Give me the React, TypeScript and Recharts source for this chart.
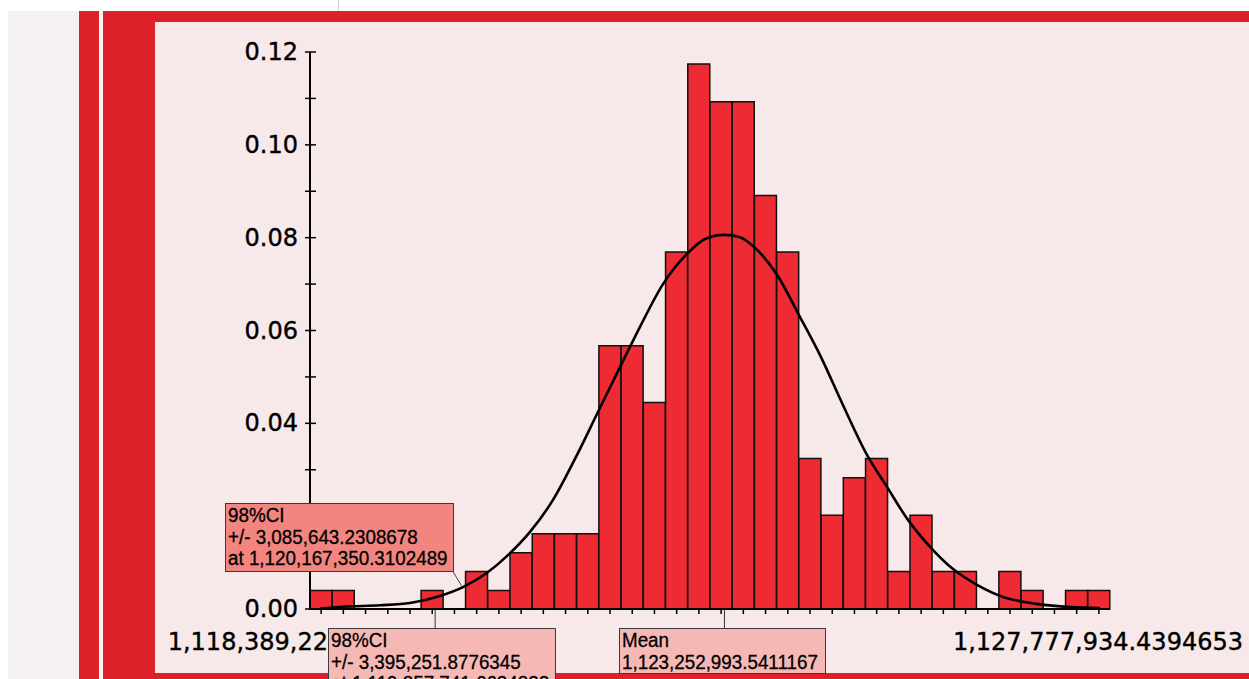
import React from "react";
import { ComposedChart, Bar, Line, XAxis, YAxis, ReferenceLine } from "recharts";

// fraction of samples in each of the 36 bins
const binFractions: number[] = [
  0.004, 0.004, 0, 0, 0, 0.004, 0, 0.0081, 0.004, 0.0121, 0.0162, 0.0162,
  0.0162, 0.0567, 0.0567, 0.0445, 0.0769, 0.1174, 0.1093, 0.1093, 0.0891,
  0.0769, 0.0324, 0.0202, 0.0283, 0.0324, 0.0081, 0.0202, 0.0081, 0.0081, 0,
  0.0081, 0.004, 0, 0.004, 0.004,
];
const binIds: number[] = binFractions.map((_, i) => i + 1);

// fitted normal curve (x in millions)
const curveX: number[] = [
  1118.507, 1118.777, 1119.211, 1119.563, 1119.915, 1120.185, 1120.467,
  1120.713, 1120.971, 1121.241, 1121.523, 1121.757, 1122.027, 1122.262,
  1122.532, 1122.814, 1123.025, 1123.248, 1123.436, 1123.588, 1123.87,
  1124.14, 1124.375, 1124.645, 1124.926, 1125.161, 1125.407, 1125.666,
  1125.936, 1126.217, 1126.522, 1126.921, 1127.309, 1127.661,
];
const curveY: number[] = [
  0.0001, 0.0005, 0.0008, 0.0013, 0.0028, 0.0047, 0.0078, 0.0116, 0.0166,
  0.0235, 0.0332, 0.042, 0.0521, 0.0608, 0.07, 0.0765, 0.0797, 0.0806, 0.0801,
  0.0782, 0.072, 0.0629, 0.0547, 0.0439, 0.0332, 0.0263, 0.0192, 0.0134,
  0.0086, 0.0052, 0.0026, 0.0011, 0.0004, 0.0002,
];

const xDomain: [number, number] = [1118.389225, 1127.777934];
const xTickLabels: string[] = ["1,118,389,22", "1,127,777,934.4394653"];
const yMajorTicks: number[] = [0, 0.02, 0.04, 0.06, 0.08, 0.1, 0.12];
const yAllTicks: number[] = [
  0, 0.01, 0.02, 0.03, 0.04, 0.05, 0.06, 0.07, 0.08, 0.09, 0.1, 0.11, 0.12,
];

const meanValue = 1123.2529935;
const ci1At = 1120.1673503;
const ci2At = 1119.8577417;

const ci1Lines = ["98%CI", "+/- 3,085,643.2308678", "at 1,120,167,350.3102489"];
const ci2Lines = ["98%CI", "+/- 3,395,251.8776345", "at 1,119,857,741.6634822"];
const meanLines = ["Mean", "1,123,252,993.5411167"];

const binData = binIds.map((bin, i) => ({ bin, frac: binFractions[i] }));
const curveData = curveX.map((x, i) => ({ x, y: curveY[i] }));

const RED = "#dd2129";
const axisFont = "'DejaVu Sans', Verdana, sans-serif";

const renderXTick = (props: any) => {
  const { x, y, payload } = props;
  const isMin = Math.abs(payload.value - xDomain[0]) < 1e-6;
  return (
    <text
      key={`xt-${payload.value}`}
      x={isMin ? x + 18 : x + 133}
      y={y + 40}
      textAnchor="end"
      fontFamily={axisFont}
      fontSize={24}
      fill="#000"
      stroke="#000"
      strokeWidth={0.4}
    >
      {isMin ? xTickLabels[0] : xTickLabels[1]}
    </text>
  );
};

const renderEmptyTick = (props: any) => <g key={`bt-${props.index}`} />;

// y tick: label on the even ticks, small inner tick mark on all of them
const renderYTick = (props: any) => {
  const { x, y, payload } = props;
  const axisX = x + 12;
  const major = yMajorTicks.some((t) => Math.abs(t - payload.value) < 1e-9);
  return (
    <g key={`yt-${payload.value}`}>
      <line x1={axisX} x2={axisX + 6} y1={y} y2={y} stroke="#000" strokeWidth={1.5} />
      {major && (
        <text
          x={x}
          y={y}
          dy={8}
          textAnchor="end"
          fontFamily={axisFont}
          fontSize={24}
          fill="#000"
          stroke="#000"
          strokeWidth={0.4}
        >
          {payload.value.toFixed(2)}
        </text>
      )}
    </g>
  );
};

const Note = ({ left, top, width, height, bg, lines }: any) => (
  <div
    style={{
      position: "absolute",
      left,
      top,
      width,
      height,
      background: bg,
      border: "1px solid #3a3a3a",
      boxSizing: "border-box",
      padding: "1px 0 0 2px",
      fontFamily: "'Liberation Sans', Arial, sans-serif",
      fontSize: 20,
      lineHeight: "21.5px",
      color: "#000",
      whiteSpace: "nowrap",
      overflow: "hidden",
      WebkitTextStroke: "0.3px #000",
    }}
  >
    {lines.map((l: string) => (
      <div key={l}>
        <span
          style={{
            display: "inline-block",
            transform: "scaleX(0.94)",
            transformOrigin: "0 50%",
          }}
        >
          {l}
        </span>
      </div>
    ))}
  </div>
);

const block = (left: number, top: number, width: number, height: number, bg: string) => (
  <div style={{ position: "absolute", left, top, width, height, background: bg }} />
);

export default function App() {
  return (
    <div
      style={{
        position: "absolute",
        left: 0,
        top: 0,
        width: 1249,
        height: 679,
        overflow: "hidden",
        background: "#fff",
      }}
    >
      {block(338, 0, 1, 11, "#cfcfcf")}
      {block(8, 11, 71, 668, "#f6f1f1")}
      {block(79, 11, 1170, 11, RED)}
      {block(79, 11, 20, 668, RED)}
      {block(99, 11, 4, 668, "#fbf3f3")}
      {block(103, 11, 52, 668, RED)}
      {block(155, 22, 1094, 651, "#f7e9e9")}
      {block(155, 673, 1094, 6, RED)}

      <div style={{ position: "absolute", left: 0, top: 0 }}>
        <ComposedChart
          width={1249}
          height={679}
          data={binData}
          barCategoryGap={0}
          barGap={0}
          margin={{ top: 52, right: 139, bottom: 29, left: 230 }}
        >
          <XAxis
            xAxisId="bins"
            dataKey="bin"
            type="category"
            height={1}
            interval={0}
            tick={renderEmptyTick}
            tickSize={5}
            axisLine={{ stroke: "#000", strokeWidth: 2 }}
            tickLine={{ stroke: "#000", strokeWidth: 1.5 }}
          />
          <XAxis
            xAxisId="val"
            dataKey="x"
            type="number"
            domain={xDomain}
            allowDataOverflow
            ticks={xDomain}
            interval={0}
            height={40}
            tickSize={0}
            tickMargin={0}
            tickLine={false}
            axisLine={false}
            tick={renderXTick}
          />
          <YAxis
            yAxisId="main"
            width={80}
            domain={[0, 0.12]}
            ticks={yAllTicks}
            interval={0}
            tickSize={5}
            tickMargin={7}
            tick={renderYTick}
            axisLine={{ stroke: "#000", strokeWidth: 2 }}
            tickLine={{ stroke: "#000", strokeWidth: 1.5 }}
          />
          <Bar
            xAxisId="bins"
            yAxisId="main"
            dataKey="frac"
            fill="#ee2a33"
            stroke="#111"
            strokeWidth={1.5}
            isAnimationActive={false}
          />
          <Line
            xAxisId="val"
            yAxisId="main"
            data={curveData}
            dataKey="y"
            type="monotone"
            stroke="#000"
            strokeWidth={2.6}
            dot={false}
            isAnimationActive={false}
          />
          <ReferenceLine
            xAxisId="val"
            yAxisId="main"
            ifOverflow="visible"
            segment={[
              { x: ci1At, y: 0.005 },
              { x: ci1At - 0.105, y: 0.0082 },
            ]}
            stroke="#444"
            strokeWidth={1}
          />
          <ReferenceLine
            xAxisId="val"
            yAxisId="main"
            ifOverflow="visible"
            segment={[
              { x: ci2At, y: 0 },
              { x: ci2At, y: -0.0041 },
            ]}
            stroke="#333"
            strokeWidth={1}
          />
          <ReferenceLine
            xAxisId="val"
            yAxisId="main"
            ifOverflow="visible"
            segment={[
              { x: meanValue, y: 0 },
              { x: meanValue, y: -0.0041 },
            ]}
            stroke="#333"
            strokeWidth={1}
          />
        </ComposedChart>
      </div>

      <Note left={225} top={503} width={229} height={69} bg="#f2857f" lines={ci1Lines} />
      <Note left={328} top={628} width={228} height={60} bg="#f6b8b5" lines={ci2Lines} />
      <Note left={619} top={628} width={207} height={46} bg="#f6b8b5" lines={meanLines} />
    </div>
  );
}
